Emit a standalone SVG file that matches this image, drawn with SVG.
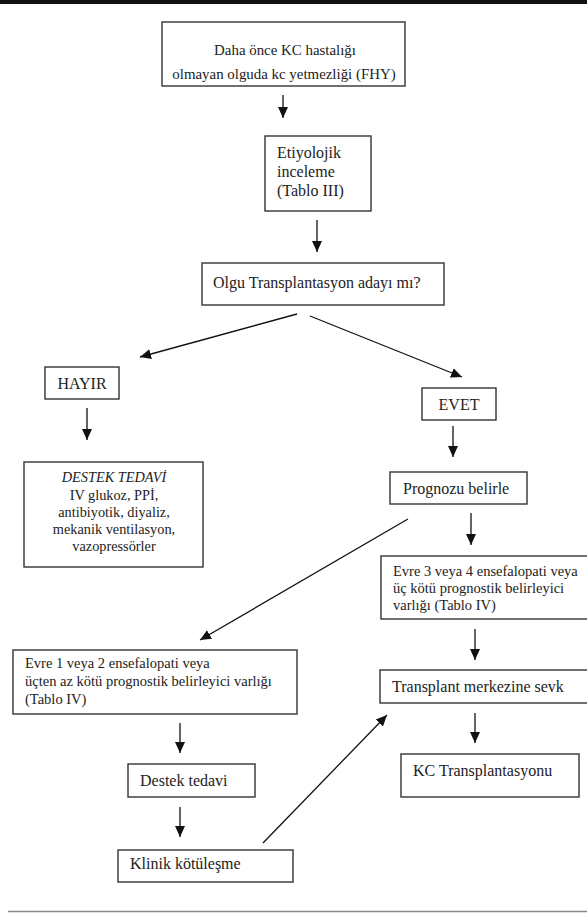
<svg xmlns="http://www.w3.org/2000/svg" width="587" height="913" viewBox="0 0 587 913">
<style>
.box{fill:#fff;stroke:#333;stroke-width:1.4}
text{font-family:"Liberation Serif","DejaVu Serif","Times New Roman",serif;font-size:16px;fill:#222}
.s{font-size:14.5px}
.t{font-size:14.9px}
.d{font-size:14.3px}
.c{text-anchor:middle}
.ln{stroke:#111;stroke-width:1.3;fill:none}
</style>
<defs>
<marker id="ah" markerWidth="12" markerHeight="12" viewBox="0 0 12 12" refX="11" refY="6" orient="auto" markerUnits="userSpaceOnUse">
<path d="M0,1 L11,6 L0,11 Z" fill="#111"/>
</marker>
</defs>
<rect x="0" y="0" width="587" height="4" fill="#111"/>
<line x1="8" y1="911.5" x2="587" y2="911.5" stroke="#888" stroke-width="1.5"/>

<g id="n1"><rect class="box" x="162" y="22" width="243" height="64"/>
<text class="c t" x="285" y="55">Daha önce KC hastalığı</text>
<text class="c t" x="284" y="79">olmayan olguda kc yetmezliği (FHY)</text></g>

<g id="n2"><rect class="box" x="265" y="136" width="106" height="75"/>
<text x="277" y="158">Etiyolojik</text>
<text x="277" y="177">inceleme</text>
<text x="277" y="196">(Tablo III)</text></g>

<g id="n3"><rect class="box" x="202" y="263" width="242" height="42"/>
<text x="213" y="288">Olgu Transplantasyon adayı mı?</text></g>

<g id="n4"><rect class="box" x="45" y="367" width="74" height="32"/>
<text class="c" x="82" y="389">HAYIR</text></g>

<g id="n5"><rect class="box" x="24" y="462" width="179" height="105"/>
<text class="c d" x="114" y="482" font-style="italic">DESTEK TEDAVİ</text>
<text class="c d" x="114" y="500">IV glukoz, PPİ,</text>
<text class="c d" x="114" y="517">antibiyotik, diyaliz,</text>
<text class="c d" x="114" y="534">mekanik ventilasyon,</text>
<text class="c d" x="114" y="551">vazopressörler</text></g>

<g id="n6"><rect class="box" x="422" y="388" width="74" height="32"/>
<text class="c" x="459" y="410">EVET</text></g>

<g id="n7"><rect class="box" x="390" y="472" width="137" height="32"/>
<text x="403" y="494">Prognozu belirle</text></g>

<g id="n8"><rect class="box" x="381" y="556" width="212" height="63"/>
<text class="s" x="393" y="576">Evre 3 veya 4 ensefalopati veya</text>
<text class="s" x="393" y="593">üç kötü prognostik belirleyici</text>
<text class="s" x="393" y="610">varlığı (Tablo IV)</text></g>

<g id="n9"><rect class="box" x="13" y="650" width="284" height="64"/>
<text class="s" x="25" y="668">Evre 1 veya 2 ensefalopati veya</text>
<text class="s" x="25" y="686">üçten az kötü prognostik belirleyici varlığı</text>
<text class="s" x="25" y="704">(Tablo IV)</text></g>

<g id="n10"><rect class="box" x="380" y="670" width="213" height="33"/>
<text x="392" y="692">Transplant merkezine sevk</text></g>

<g id="n11"><rect class="box" x="401" y="754" width="178" height="43"/>
<text x="413" y="776">KC Transplantasyonu</text></g>

<g id="n12"><rect class="box" x="128" y="764" width="127" height="33"/>
<text x="140" y="786">Destek tedavi</text></g>

<g id="n13"><rect class="box" x="118" y="850" width="175" height="32"/>
<text x="130" y="869">Klinik kötüleşme</text></g>

<g id="connectors">
<line class="ln" x1="283" y1="95" x2="283" y2="118" marker-end="url(#ah)"/>
<line class="ln" x1="317" y1="220" x2="317" y2="252" marker-end="url(#ah)"/>
<line class="ln" x1="297" y1="314" x2="140" y2="357" marker-end="url(#ah)"/>
<line class="ln" x1="310" y1="316" x2="462" y2="377" marker-end="url(#ah)"/>
<line class="ln" x1="87" y1="408" x2="87" y2="440" marker-end="url(#ah)"/>
<line class="ln" x1="453" y1="426" x2="453" y2="457" marker-end="url(#ah)"/>
<line class="ln" x1="471" y1="513" x2="471" y2="545" marker-end="url(#ah)"/>
<line class="ln" x1="408" y1="519" x2="200" y2="640" marker-end="url(#ah)"/>
<line class="ln" x1="475" y1="629" x2="475" y2="660" marker-end="url(#ah)"/>
<line class="ln" x1="475" y1="713" x2="475" y2="743" marker-end="url(#ah)"/>
<line class="ln" x1="180" y1="723" x2="180" y2="753" marker-end="url(#ah)"/>
<line class="ln" x1="180" y1="807" x2="180" y2="837" marker-end="url(#ah)"/>
<line class="ln" x1="263" y1="843" x2="387" y2="715" marker-end="url(#ah)"/>
</g>
</svg>
